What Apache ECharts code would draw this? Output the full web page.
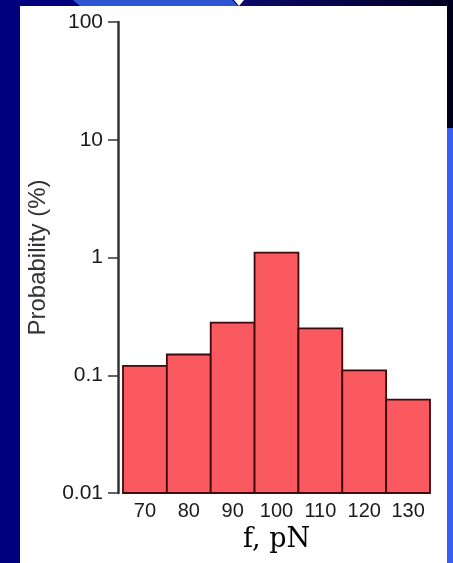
<!DOCTYPE html>
<html>
<head>
<meta charset="utf-8">
<script src="https://cdn.jsdelivr.net/npm/echarts@6/dist/echarts.min.js"></script>
<style>
html,body{margin:0;padding:0;background:#00007e;}
#c{width:453px;height:563px;}
</style>
</head>
<body>
<div id="c"></div>
<script>
// Data
const categories = ['70', '80', '90', '100', '110', '120', '130'];
const probability = [0.12, 0.15, 0.28, 1.1, 0.25, 0.11, 0.062];
const yTicks = [0.01, 0.1, 1, 10, 100];
const yMin = 0.01, yMax = 100;
const xName = 'f, pN';
const yName = 'Probability (%)';

const chart = echarts.init(document.getElementById('c'), null, {renderer: 'canvas'});
const seriesData = probability.map((v, i) => [i, v]);

chart.setOption({
  backgroundColor: '#00007e',
  animation: false,
  graphic: [
    {type: 'rect', z: -10, shape: {x: 20, y: 6, width: 427, height: 557}, style: {fill: '#ffffff'}},
    {type: 'polygon', z: -10, shape: {points: [[73, 0], [232, 0], [238, 6], [80, 6]]}, style: {fill: '#2f55d2'}},
    {type: 'rect', z: -10, shape: {x: 240, y: 0, width: 213, height: 6},
      style: {fill: new echarts.graphic.LinearGradient(0, 0, 1, 0, [{offset: 0, color: '#0a0a6a'}, {offset: 1, color: '#000022'}])}},
    {type: 'polygon', z: -9, shape: {points: [[234, 0], [244, 0], [239, 6]]}, style: {fill: '#ffffff'}},
    {type: 'rect', z: -10, shape: {x: 447, y: 6, width: 6, height: 122}, style: {fill: '#000018'}},
    {type: 'rect', z: -10, shape: {x: 447, y: 128, width: 6, height: 435}, style: {fill: '#3a5ef4'}}
  ],
  grid: {left: 123, right: 23, top: 22, bottom: 70, containLabel: false},
  xAxis: {
    type: 'category',
    data: categories,
    boundaryGap: true,
    axisLine: {show: false},
    axisTick: {show: false},
    axisLabel: {color: '#1a1a1a', fontSize: 20, fontFamily: 'Liberation Sans', margin: 8, interval: 0, hideOverlap: false},
    name: xName,
    nameLocation: 'middle',
    nameGap: 33,
    nameTextStyle: {color: '#000000', fontSize: 27, fontFamily: 'DejaVu Serif'}
  },
  yAxis: {
    type: 'log',
    logBase: 10,
    min: yMin,
    max: yMax,
    offset: 5,
    splitLine: {show: false},
    minorTick: {show: false},
    axisLine: {show: true, lineStyle: {color: '#333333', width: 2.5}},
    axisTick: {show: true, inside: false, length: 10, lineStyle: {color: '#333333', width: 1.5}},
    axisLabel: {
      color: '#1a1a1a', fontSize: 21, fontFamily: 'Liberation Sans', margin: 15,
      formatter: function (v) {
        const t = yTicks.find(x => Math.abs(Math.log10(x) - Math.log10(v)) < 1e-6);
        return t === undefined ? '' : String(t);
      }
    },
    name: yName,
    nameLocation: 'middle',
    nameGap: 68,
    nameRotate: 90,
    nameTextStyle: {color: '#333333', fontSize: 24, fontFamily: 'Liberation Sans'}
  },
  series: [{
    type: 'custom',
    data: seriesData,
    encode: {x: 0, y: 1},
    renderItem: function (params, api) {
      const idx = api.value(0);
      const v = api.value(1);
      const top = api.coord([idx, v]);
      const bot = api.coord([idx, yMin]);
      const w = api.size([1, 1])[0];
      return {
        type: 'rect',
        shape: {x: top[0] - w / 2, y: top[1], width: w, height: bot[1] - top[1]},
        style: {fill: '#fa5a5f', stroke: '#3a0a0d', lineWidth: 1.8}
      };
    }
  }]
});
</script>
</body>
</html>
